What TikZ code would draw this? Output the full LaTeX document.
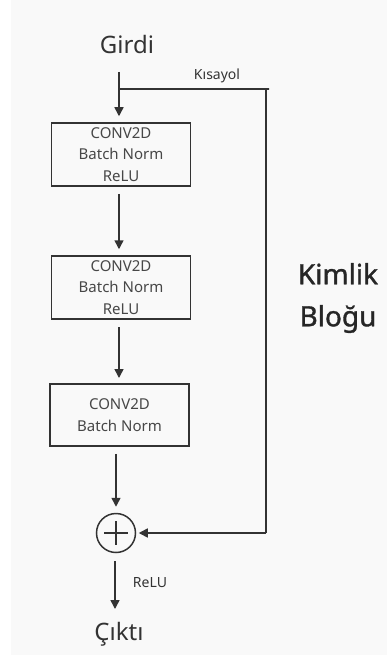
\documentclass[tikz,border=0pt]{standalone}
\usepackage{fontspec}
\setmainfont{Noto Sans}
\newfontfamily\medfont[FakeBold=1.2]{Noto Sans}
\usetikzlibrary{arrows.meta,calc}
\definecolor{ink}{HTML}{333333}
\definecolor{bg}{HTML}{F9F9F9}
\begin{document}
\begin{tikzpicture}[x=1pt,y=-1pt,
  line/.style={draw=ink,line width=1.5pt},
  arr/.style={line,-{Triangle[width=9pt,length=9pt]}},
  blk/.style={draw=ink,line width=1.5pt,minimum width=139pt,align=center,inner sep=0pt,font=\fontsize{15}{21.5}\selectfont,text=ink!90},
  big/.style={font=\fontsize{24}{28}\selectfont,text=ink},
  small/.style={font=\fontsize{14}{16}\selectfont,text=ink}]
\fill[bg] (0,0) rectangle (387,655);
\fill[white] (0,0) rectangle (11,655);
\useasboundingbox (0,0) rectangle (387,655);

\node[big] (girdi) at (127,45) {Girdi};
\node[blk,minimum height=63pt] (b1) at (121,154.5) {CONV2D\\Batch Norm\\ReLU};
\node[blk,minimum height=63pt] (b2) at (121,287.5) {CONV2D\\Batch Norm\\ReLU};
\node[blk,minimum height=62pt] (b3) at (119.5,415) {CONV2D\\Batch Norm};
\node[draw=ink,line width=1.5pt,circle,minimum size=39pt,inner sep=0pt] (plus) at (116,533) {};
\draw[ink,line width=1.2pt] ($(plus)+(-12,0)$) -- ($(plus)+(12,0)$) ($(plus)+(0,-12)$) -- ($(plus)+(0,12)$);
\node[big] (cikti) at (119,634) {Çıktı};
\node[small] (kis) at (217,76) {Kısayol};
\node[small] (relu) at (150,583) {ReLU};
\node[font=\medfont\fontsize{28}{42}\selectfont,text=black!85,align=center] (kb) at (338,298) {Kimlik\\Bloğu};

\coordinate (in) at (119,72);
\coordinate (br) at (119,89);
\coordinate (corner1) at (269,89);
\coordinate (corner2) at (266,533);
\coordinate (outend) at (115,609);
\coordinate (a2s) at (119,327);
\coordinate (a2e) at (119,384);

\draw[arr,shorten >=6pt] (in) -- (in |- b1.north);
\draw[line] (br) -- (corner1) -- (corner2 |- corner1) -- (corner2);
\draw[arr,shorten >=2.5pt] (corner2) -- (plus.east);
\draw[arr,shorten <=7pt,shorten >=6pt] ($(b1.south)+(-2,0)$) -- ($(b2.north)+(-2,0)$);
\draw[arr,shorten >=6pt] (a2s) -- (a2e);
\draw[arr,shorten <=7pt,shorten >=6pt] (b3.south -| plus) -- (plus.north);
\draw[arr,shorten <=8pt] ($(plus.south)+(-1,0)$) -- (outend);
\end{tikzpicture}
\end{document}
